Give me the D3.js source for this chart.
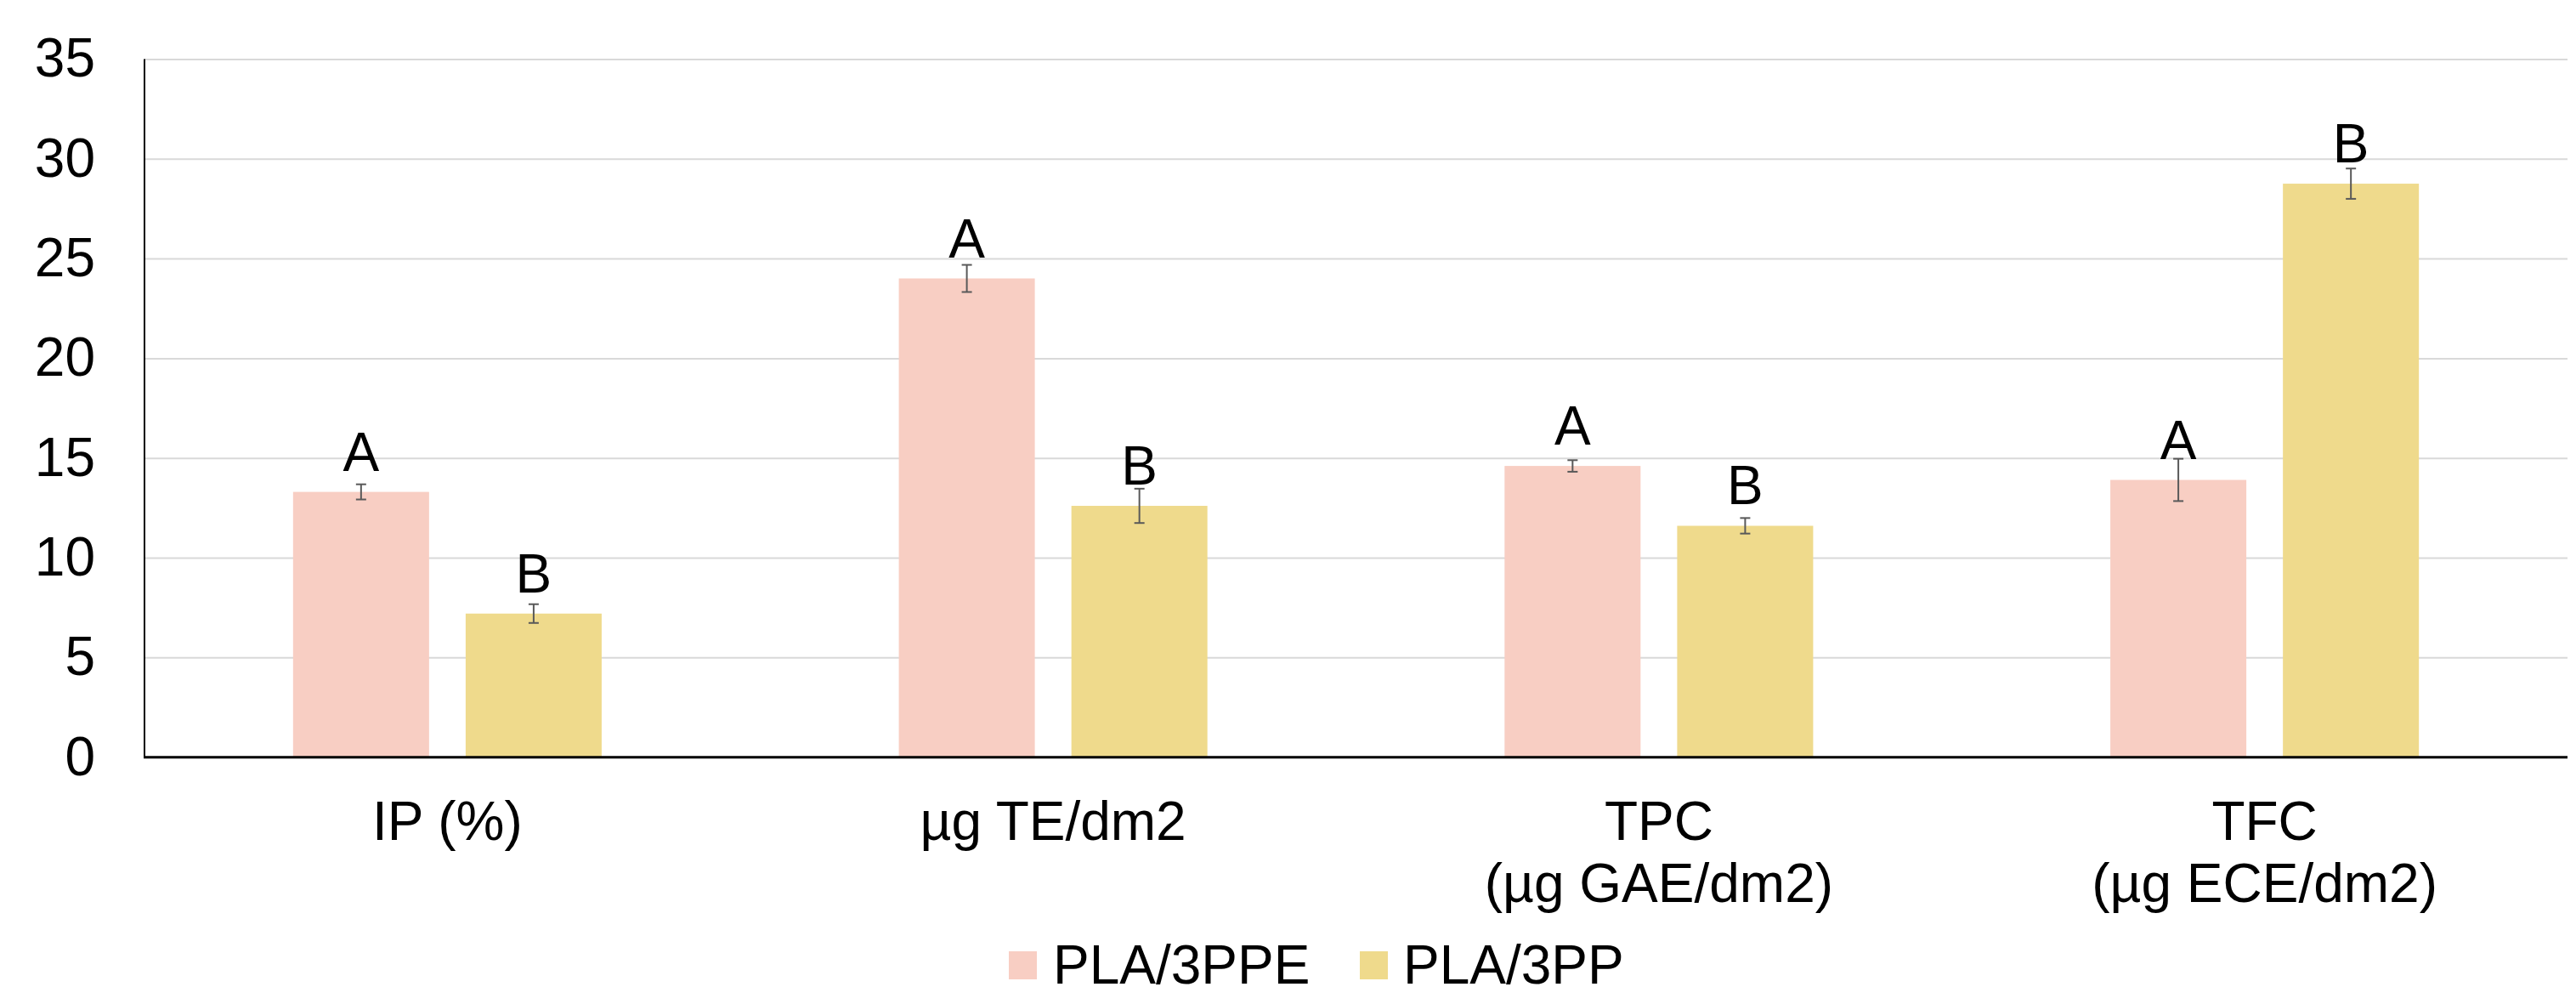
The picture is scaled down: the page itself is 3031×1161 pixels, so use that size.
<!DOCTYPE html>
<html>
<head>
<meta charset="utf-8">
<script src="https://cdn.jsdelivr.net/npm/d3@7"></script>
<style>
  body { margin: 0; background: #fff; }
  text { font-family: Arial, "Liberation Sans", sans-serif; }
</style>
</head>
<body>
<div id="app"></div>
<script>
// values
const categories = ["IP (%)", "µg TE/dm2", "TPC\n(µg GAE/dm2)", "TFC\n(µg ECE/dm2)"];
const seriesNames = ["PLA/3PPE", "PLA/3PP"];
const pla3ppe = [13.3, 24.0, 14.6, 13.9];
const pla3pp = [7.2, 12.6, 11.6, 28.75];
const pla3ppeErr = [0.38, 0.68, 0.29, 1.06];
const pla3ppErr = [0.47, 0.86, 0.39, 0.76];
const pla3ppeLetters = ["A", "A", "A", "A"];
const pla3ppLetters = ["B", "B", "B", "B"];
const yTicks = [0, 5, 10, 15, 20, 25, 30, 35];

const colors = ["#F8CEC3", "#EFDA8C"];

const width = 3031, height = 1161;
const margin = { top: 69.4, right: 10, bottom: 270.3, left: 170 };
const fontSize = 64;

const rows = categories.map((c, i) => ({
  category: c,
  values: [
    { key: seriesNames[0], value: pla3ppe[i], err: pla3ppeErr[i], letter: pla3ppeLetters[i] },
    { key: seriesNames[1], value: pla3pp[i], err: pla3ppErr[i], letter: pla3ppLetters[i] }
  ]
}));

const x0 = d3.scaleBand()
  .domain(categories)
  .range([margin.left, width - margin.right])
  .padding(0);

const x1 = d3.scaleBand()
  .domain(seriesNames)
  .range([0, x0.bandwidth()])
  .paddingInner(0.212)
  .paddingOuter(0.861);

const y = d3.scaleLinear()
  .domain([0, 35])
  .range([height - margin.bottom, margin.top]);

const color = d3.scaleOrdinal().domain(seriesNames).range(colors);

const svg = d3.select("#app").append("svg")
  .attr("width", width)
  .attr("height", height);

// gridlines
svg.append("g")
  .attr("class", "grid")
  .attr("transform", `translate(${margin.left},0)`)
  .call(d3.axisLeft(y).tickValues(yTicks).tickSize(-(width - margin.left - margin.right)).tickFormat(""))
  .call(g => g.select(".domain").remove())
  .call(g => g.selectAll("line").attr("stroke", "#d9d9d9").attr("stroke-width", 2));

// y tick labels
svg.append("g")
  .attr("transform", `translate(${margin.left},0)`)
  .call(d3.axisLeft(y).tickValues(yTicks).tickSize(0).tickPadding(58))
  .call(g => g.select(".domain").remove())
  .call(g => g.selectAll("text")
    .attr("font-size", fontSize)
    .attr("fill", "#000")
    .style("font-family", "Arial, 'Liberation Sans', sans-serif"));

// bars
const group = svg.append("g")
  .selectAll("g")
  .data(rows)
  .join("g")
  .attr("transform", d => `translate(${x0(d.category)},0)`);

group.selectAll("rect")
  .data(d => d.values)
  .join("rect")
  .attr("x", d => x1(d.key))
  .attr("y", d => y(d.value))
  .attr("width", x1.bandwidth())
  .attr("height", d => y(0) - y(d.value))
  .attr("fill", d => color(d.key));

// error bars
const capW = 12;
const err = group.selectAll("g.err")
  .data(d => d.values)
  .join("g")
  .attr("class", "err")
  .attr("stroke", "#595959")
  .attr("stroke-width", 2);

err.append("line")
  .attr("x1", d => x1(d.key) + x1.bandwidth() / 2)
  .attr("x2", d => x1(d.key) + x1.bandwidth() / 2)
  .attr("y1", d => y(d.value + d.err))
  .attr("y2", d => y(d.value - d.err));

err.selectAll("line.cap")
  .data(d => [
    { k: d.key, v: d.value + d.err },
    { k: d.key, v: d.value - d.err }
  ])
  .join("line")
  .attr("class", "cap")
  .attr("x1", d => x1(d.k) + x1.bandwidth() / 2 - capW / 2)
  .attr("x2", d => x1(d.k) + x1.bandwidth() / 2 + capW / 2)
  .attr("y1", d => y(d.v))
  .attr("y2", d => y(d.v));

// significance letters
group.selectAll("text.letter")
  .data(d => d.values)
  .join("text")
  .attr("class", "letter")
  .attr("x", d => x1(d.key) + x1.bandwidth() / 2)
  .attr("y", d => y(d.value) - 25)
  .attr("text-anchor", "middle")
  .attr("font-size", fontSize)
  .attr("fill", "#000")
  .text(d => d.letter);

// axis lines
svg.append("line")
  .attr("x1", margin.left).attr("x2", margin.left)
  .attr("y1", margin.top).attr("y2", y(0))
  .attr("stroke", "#000").attr("stroke-width", 2);

svg.append("line")
  .attr("x1", margin.left - 1).attr("x2", width - margin.right)
  .attr("y1", y(0)).attr("y2", y(0))
  .attr("stroke", "#000").attr("stroke-width", 3);

// category labels
const catLabel = svg.append("g")
  .selectAll("text")
  .data(categories)
  .join("text")
  .attr("x", d => x0(d) + x0.bandwidth() / 2)
  .attr("y", 988)
  .attr("text-anchor", "middle")
  .attr("font-size", fontSize)
  .attr("fill", "#000");

catLabel.selectAll("tspan")
  .data(d => d.split("\n"))
  .join("tspan")
  .attr("x", function () { return d3.select(this.parentNode).attr("x"); })
  .attr("dy", (d, i) => i === 0 ? 0 : 72.7)
  .text(d => d);

// legend
const legendItems = [
  { key: seriesNames[0], sx: 1187, tx: 1239 },
  { key: seriesNames[1], sx: 1600, tx: 1651 }
];
const legend = svg.append("g").attr("class", "legend");
legend.selectAll("rect")
  .data(legendItems)
  .join("rect")
  .attr("x", d => d.sx)
  .attr("y", 1119)
  .attr("width", 33)
  .attr("height", 33)
  .attr("fill", d => color(d.key));
legend.selectAll("text")
  .data(legendItems)
  .join("text")
  .attr("x", d => d.tx)
  .attr("y", 1157)
  .attr("font-size", fontSize)
  .attr("fill", "#000")
  .text(d => d.key);
</script>
</body>
</html>
